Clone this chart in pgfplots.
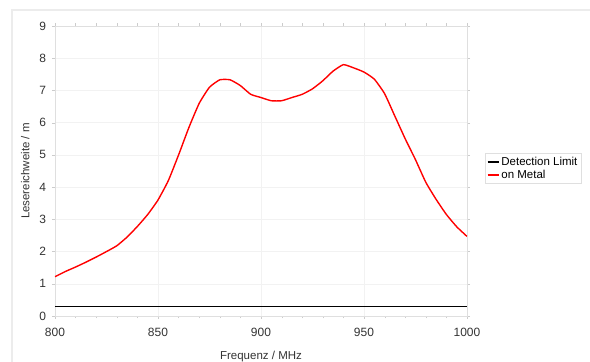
\documentclass[border=0pt]{standalone}
\usepackage{fontspec}
\setmainfont{Liberation Sans}
\usepackage{pgfplots}
\pgfplotsset{compat=1.18}
\definecolor{txt}{HTML}{333333}
\begin{document}
\begin{tikzpicture}[x=1pt,y=1pt]
\fontsize{11.5}{13}\selectfont
\draw[gray!15, line width=1.5pt] (12,-10) -- (12,352) -- (600,352);
\begin{axis}[
  at={(55pt,46pt)}, anchor=south west,
  scale only axis, width=412pt, height=290pt,
  xmin=800, xmax=1000, ymin=0, ymax=9,
  xtick={800,850,...,1000}, ytick={0,1,...,9},
  minor x tick num=4,
  /pgf/number format/assume math mode=true,
  /pgf/number format/1000 sep={},
  ticklabel style={font=\fontsize{12}{13}\selectfont, text=txt},
  xticklabel style={yshift=-5pt},
  yticklabel style={xshift=-2pt},
  label style={font=\fontsize{11.5}{13}\selectfont, text=txt},
  xlabel={Frequenz / MHz}, ylabel={Lesereichweite / m},
  xlabel style={yshift=-7pt}, ylabel style={yshift=2pt},
  axis line style={gray!25},
  tick style={gray!40},
  tick align=outside,
  major tick length=3pt, minor tick length=2.5pt,
  ymajorgrids, xmajorgrids,
  grid style={gray!10},
  legend style={at={(1.0437,0.562)}, anchor=north west, draw=gray!25,
    font=\fontsize{11.5}{13}\selectfont, inner sep=1.5pt, row sep=-1pt,
    cells={anchor=west}},
  legend cell align=left,
  legend image post style={xscale=0.65},
]
\addplot[black, line width=1.6pt] coordinates {(800,0.3) (1000,0.3)};
\addlegendentry{Detection Limit}
\addplot[red, line width=1.4pt, smooth, tension=0.3] coordinates {
(800,1.22) (805,1.38) (810,1.52) (815,1.67) (820,1.83) (825,2.0) (830,2.18)
(835,2.45) (840,2.78) (845,3.15) (850,3.6) (855,4.2) (860,5.0) (865,5.85)
(870,6.6) (875,7.1) (880,7.33) (885,7.33) (890,7.15) (895,6.88) (900,6.78)
(905,6.68) (910,6.68) (915,6.78) (920,6.88) (925,7.05) (930,7.3) (935,7.6)
(940,7.8) (945,7.7) (950,7.57) (955,7.35) (960,6.9) (965,6.2) (970,5.5)
(975,4.85) (980,4.15) (985,3.62) (990,3.15) (995,2.77) (1000,2.47)};
\addlegendentry{on Metal}
\end{axis}
\pgfresetboundingbox
\useasboundingbox (0,0) rectangle (590,362);
\end{tikzpicture}
\end{document}
